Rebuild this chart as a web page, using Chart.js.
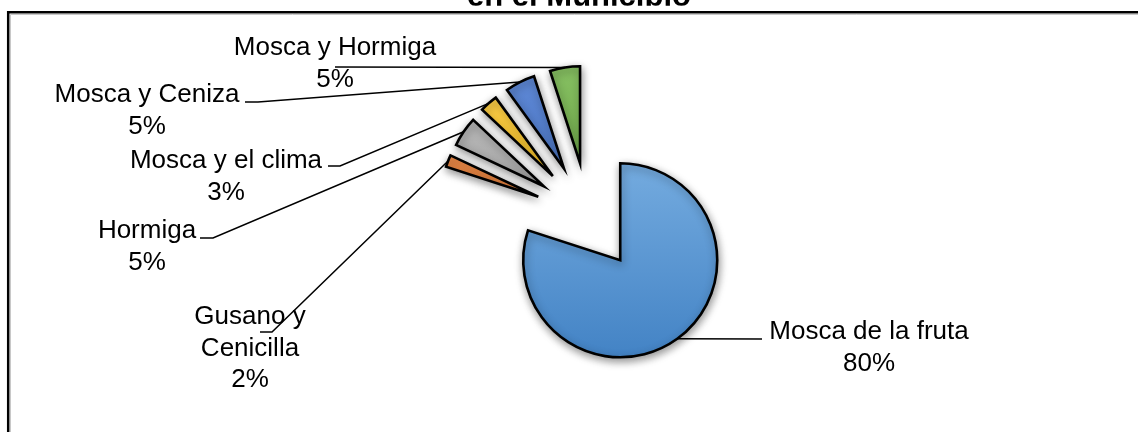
<!DOCTYPE html>
<html lang="es">
<head>
    <meta charset="UTF-8">
    <title>Plagas en el Municipio</title>
    <script src="https://cdn.jsdelivr.net/npm/chart.js"></script>
    <style>
        html, body { margin: 0; padding: 0; background: #fff; }
        #wrap { width: 1138px; height: 432px; position: relative; }
    </style>
</head>
<body>
<div id="wrap"><canvas id="pie"></canvas></div>
<script>
// data
const categories = [
    ['Mosca de la fruta'],
    ['Gusano y', 'Cenicilla'],
    ['Hormiga'],
    ['Mosca y el clima'],
    ['Mosca y Ceniza'],
    ['Mosca y Hormiga']
];
const values = [80, 2, 5, 3, 5, 5];
const titleText = 'en el Municipio';

// colours (lighter top / darker bottom)
const lightColors = ['#74abdf', '#f59a5c', '#bcbcbc', '#ffd24f', '#5f89d6', '#86bf62'];
const darkColors  = ['#4383c5', '#e06b1c', '#969696', '#f0b400', '#3a66b6', '#5f9c36'];

const RADIUS = 97;
const EXPLODE = 54;
const FONT = '"Liberation Sans", Arial, sans-serif';

// where each data label sits (centre x, first baseline) and its leader stub
const labelLayout = [
    { x: 869, y: 339, stub: [[762, 339]] },
    { x: 250, y: 324, stub: [[260, 332], [272, 332]] },
    { x: 147, y: 238, stub: [[200, 238], [213, 238]] },
    { x: 226, y: 168, stub: [[328, 166], [340, 166]] },
    { x: 147, y: 102, stub: [[245, 102], [258, 102]] },
    { x: 335, y: 55,  stub: [[335, 67]] }
];
const LINE_H = 31.5;

const total = values.reduce((a, b) => a + b, 0);

function midAngle(arc) {
    const p = arc.getProps(['startAngle', 'endAngle'], true);
    return (p.startAngle + p.endAngle) / 2;
}

// draw all slices pulled out from the centre, with a soft shadow
const explodePlugin = {
    id: 'explode',
    beforeDatasetsDraw(chart) {
        const ctx = chart.ctx;
        chart.getDatasetMeta(0).data.forEach(arc => {
            const a = midAngle(arc);
            ctx.save();
            ctx.translate(Math.cos(a) * EXPLODE, Math.sin(a) * EXPLODE);
            ctx.shadowColor = 'rgba(0,0,0,0.42)';
            ctx.shadowBlur = 8;
            ctx.shadowOffsetX = 1;
            ctx.shadowOffsetY = 3;
            arc.draw(ctx);
            ctx.restore();
        });
        return false;
    }
};

// frame, clipped title, data labels with leader lines
const labelPlugin = {
    id: 'labels',
    afterDraw(chart) {
        const ctx = chart.ctx;
        ctx.save();

        // title (only its lower edge shows above the frame)
        ctx.save();
        ctx.beginPath();
        ctx.rect(0, 0, 1138, 5.8);
        ctx.clip();
        ctx.font = 'bold 31px ' + FONT;
        ctx.fillStyle = '#000';
        ctx.textAlign = 'center';
        ctx.textBaseline = 'alphabetic';
        ctx.fillText(titleText, 579, 5.5);
        ctx.restore();

        // frame
        ctx.strokeStyle = '#c8c8c8';
        ctx.lineWidth = 1;
        ctx.beginPath();
        ctx.moveTo(10.5, 432);
        ctx.lineTo(10.5, 14.5);
        ctx.lineTo(1138, 14.5);
        ctx.stroke();
        ctx.strokeStyle = '#000';
        ctx.lineWidth = 2.5;
        ctx.beginPath();
        ctx.moveTo(8.2, 432);
        ctx.lineTo(8.2, 12.2);
        ctx.lineTo(1138, 12.2);
        ctx.stroke();

        // leader lines
        ctx.strokeStyle = '#000';
        ctx.lineWidth = 1.5;
        chart.getDatasetMeta(0).data.forEach((arc, i) => {
            const a = midAngle(arc);
            const r = EXPLODE + arc.outerRadius;
            const ex = arc.x + Math.cos(a) * r;
            const ey = arc.y + Math.sin(a) * r;
            const pts = labelLayout[i].stub;
            ctx.beginPath();
            ctx.moveTo(pts[0][0], pts[0][1]);
            for (let k = 1; k < pts.length; k++) ctx.lineTo(pts[k][0], pts[k][1]);
            ctx.lineTo(ex, ey);
            ctx.stroke();
        });

        // label text
        ctx.font = '26px ' + FONT;
        ctx.fillStyle = '#000';
        ctx.textAlign = 'center';
        ctx.textBaseline = 'alphabetic';
        categories.forEach((lines, i) => {
            const L = labelLayout[i];
            const pct = Math.round(values[i] / total * 100) + '%';
            lines.concat([pct]).forEach((t, k) => {
                ctx.fillText(t, L.x, L.y + k * LINE_H);
            });
        });
        ctx.restore();
    }
};

new Chart(document.getElementById('pie'), {
    type: 'pie',
    data: {
        labels: categories,
        datasets: [{
            data: values,
            backgroundColor: (c) => {
                const chart = c.chart;
                const area = chart.chartArea;
                const i = c.dataIndex;
                if (!area || i === undefined) return lightColors[i || 0];
                const cy = (area.top + area.bottom) / 2;
                const g = chart.ctx.createLinearGradient(0, cy - RADIUS, 0, cy + RADIUS);
                g.addColorStop(0, lightColors[i]);
                g.addColorStop(1, darkColors[i]);
                return g;
            },
            borderColor: '#000',
            borderWidth: 2.6,
            borderJoinStyle: 'miter'
        }]
    },
    options: {
        responsive: true,
        maintainAspectRatio: false,
        devicePixelRatio: 1,
        animation: false,
        radius: RADIUS,
        rotation: 0,
        layout: {
            padding: { left: 488.5, right: 449.5, top: 116.6, bottom: 115.4 }
        },
        plugins: {
            legend: { display: false },
            tooltip: { enabled: false },
            title: { display: false }
        }
    },
    plugins: [explodePlugin, labelPlugin]
});
</script>
</body>
</html>
